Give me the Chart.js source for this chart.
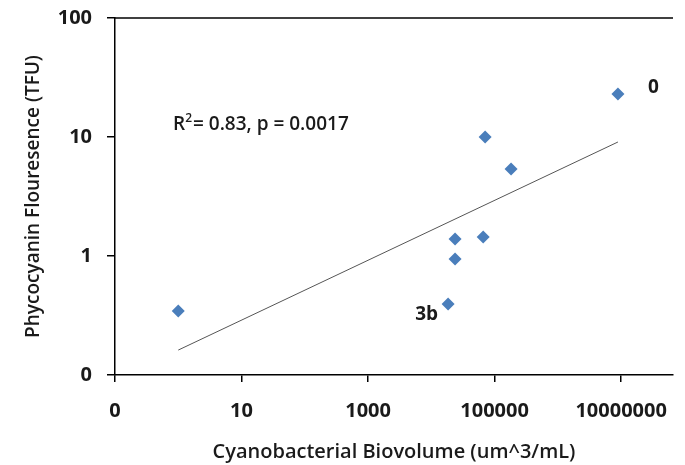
<!DOCTYPE html>
<html>
<head>
<meta charset="utf-8">
<script src="https://cdn.jsdelivr.net/npm/chart.js@4/dist/chart.umd.min.js"></script>
<style>
  html, body { margin: 0; padding: 0; background: #fff; }
  #wrap { width: 685px; height: 465px; }
</style>
</head>
<body>
<div id="wrap"><canvas id="c"></canvas></div>
<script>
// Biovolume vs phycocyanin (log-log)
const biovolume = [1, 18400, 8.9e6, 70800, 182000, 23700, 66000, 23700];
const phycocyanin = [0.345, 0.395, 23.0, 10.0, 5.38, 1.39, 1.445, 0.944];
const pointLabels = ['', '3b', '0', '', '', '', '', ''];

// trendline ends
const trendX = [1, 8.9e6];
const trendY = [0.162, 9.08];

const xTicks = [0.1, 10, 1000, 100000, 10000000];
const xTickLabels = ['0', '10', '1000', '100000', '10000000'];
const yTicks = [0.1, 1, 10, 100];
const yTickLabels = ['0', '1', '10', '100'];

const statText = ['R', '2', '= 0.83, p = 0.0017'];

const FONT = '"Open Sans", "Liberation Sans", sans-serif';
const INK = '#1a1a1a';

const extras = {
  id: 'extras',
  afterDraw(chart) {
    const { ctx, chartArea: a, scales: { x, y } } = chart;
    ctx.save();
    // top frame line
    ctx.strokeStyle = '#000';
    ctx.lineWidth = 1.5;
    ctx.beginPath();
    ctx.moveTo(a.left, a.top);
    ctx.lineTo(a.right, a.top);
    ctx.stroke();

    // point labels
    ctx.fillStyle = INK;
    ctx.font = '700 19px ' + FONT;
    ctx.textBaseline = 'middle';
    pointLabels.forEach((t, i) => {
      if (!t) return;
      const px = x.getPixelForValue(biovolume[i]);
      const py = y.getPixelForValue(phycocyanin[i]);
      if (t === '0') { ctx.textAlign = 'left'; ctx.fillText(t, px + 30, py - 6); }
      else { ctx.textAlign = 'right'; ctx.fillText(t, px - 10, py + 11); }
    });

    // R² text
    ctx.textAlign = 'left';
    ctx.font = '600 19px ' + FONT;
    let tx = 173, ty = 125;
    ctx.fillText(statText[0], tx, ty);
    tx += ctx.measureText(statText[0]).width;
    ctx.font = '600 12px ' + FONT;
    ctx.fillText(statText[1], tx, ty - 6);
    tx += ctx.measureText(statText[1]).width + 1;
    ctx.font = '600 19px ' + FONT;
    ctx.fillText(statText[2], tx, ty);
    ctx.restore();
  }
};

new Chart(document.getElementById('c'), {
  type: 'scatter',
  data: {
    datasets: [
      {
        label: 'samples',
        data: biovolume.map((v, i) => ({ x: v, y: phycocyanin[i] })),
        pointStyle: 'rectRot',
        pointRadius: 6.5,
        backgroundColor: '#4A7EBB',
        borderColor: '#4A7EBB',
        borderWidth: 0,
      },
      {
        label: 'trend',
        type: 'line',
        data: trendX.map((v, i) => ({ x: v, y: trendY[i] })),
        borderColor: '#555',
        borderWidth: 1,
        pointRadius: 0,
        fill: false,
      },
    ],
  },
  options: {
    responsive: true,
    maintainAspectRatio: false,
    animation: false,
    layout: { padding: { top: 18, right: 12, left: 0, bottom: 0 } },
    plugins: { legend: { display: false }, tooltip: { enabled: false } },
    scales: {
      x: {
        type: 'logarithmic',
        min: 0.1,
        max: 6.6e7,
        afterFit: s => { s.height = 90; s.paddingLeft = 0; s.paddingRight = 0; },
        afterBuildTicks: s => { s.ticks = xTicks.map(v => ({ value: v })); },
        ticks: {
          color: INK,
          font: { family: FONT, size: 20, weight: '700' },
          padding: 17,
          maxRotation: 0,
          autoSkip: false,
          callback: (v, i) => xTickLabels[i],
        },
        grid: { display: true, drawOnChartArea: false, drawTicks: true, tickLength: 7, color: '#000', lineWidth: 1.5 },
        border: { display: true, color: '#000', width: 1.5 },
        title: {
          display: true,
          text: 'Cyanobacterial Biovolume (um^3/mL)',
          color: INK,
          font: { family: FONT, size: 20, weight: '600' },
          padding: { top: 0, bottom: 1 },
        },
      },
      y: {
        type: 'logarithmic',
        min: 0.1,
        max: 100,
        afterFit: s => { s.width = 115; s.paddingTop = 0; s.paddingBottom = 0; },
        afterBuildTicks: s => { s.ticks = yTicks.map(v => ({ value: v })); },
        ticks: {
          color: INK,
          font: { family: FONT, size: 20, weight: '700' },
          padding: 15,
          autoSkip: false,
          callback: (v, i) => yTickLabels[i],
        },
        grid: { display: true, drawOnChartArea: false, drawTicks: true, tickLength: 8, color: '#000', lineWidth: 1.5 },
        border: { display: true, color: '#000', width: 1.5 },
        title: {
          display: true,
          text: 'Phycocyanin Flouresence (TFU)',
          color: INK,
          font: { family: FONT, size: 19, weight: '600' },
          padding: { top: 22, bottom: 0 },
        },
      },
    },
  },
  plugins: [extras],
});
</script>
</body>
</html>
